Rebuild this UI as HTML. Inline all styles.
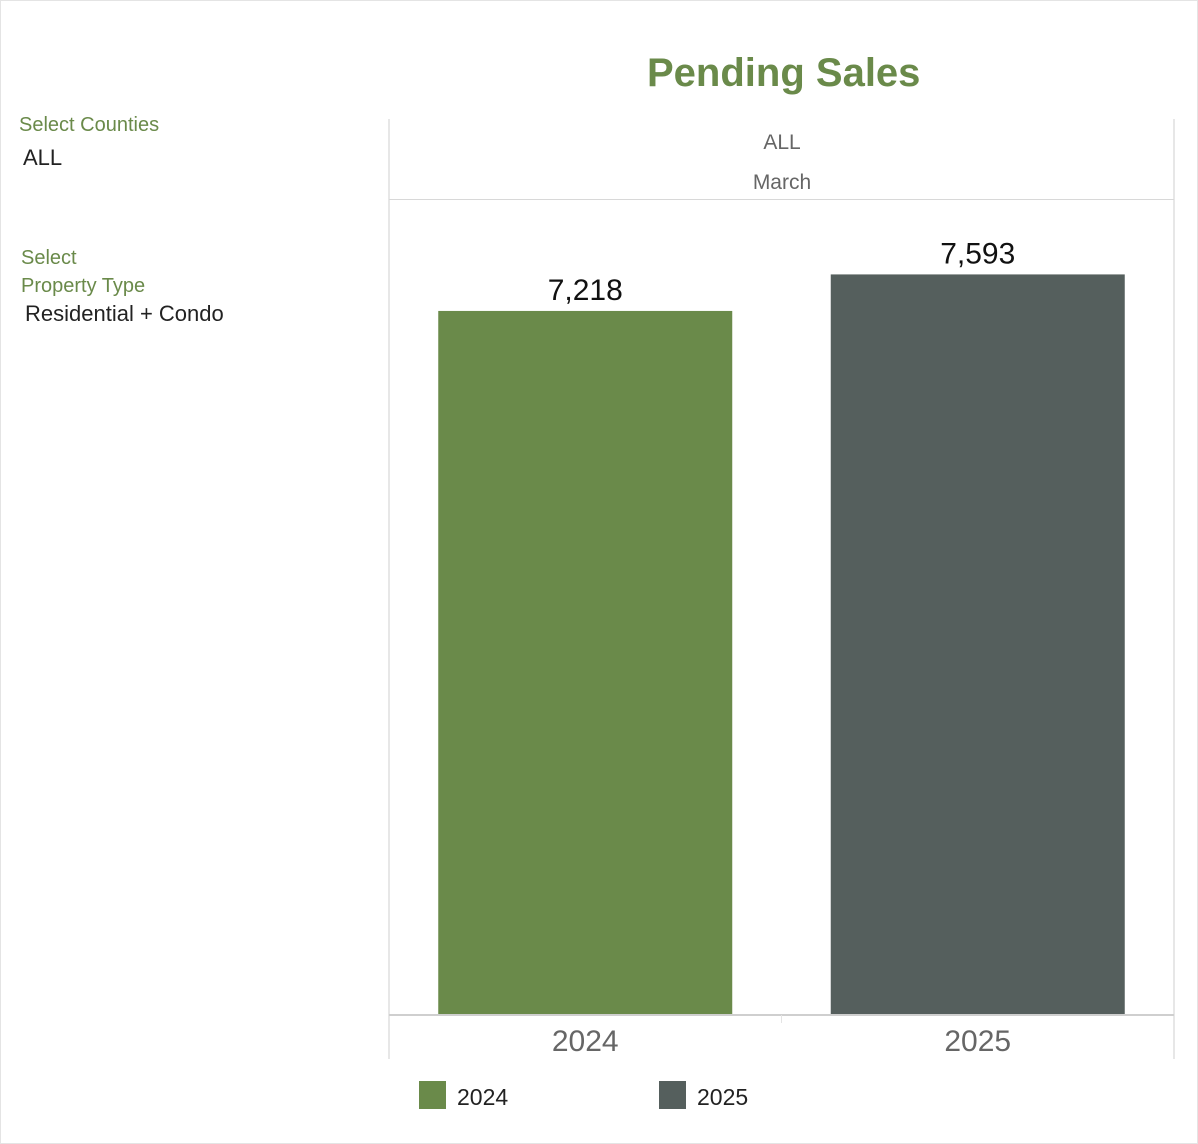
<!DOCTYPE html>
<html><head><meta charset="utf-8"><style>
body{margin:0;background:#fff;font-family:"Liberation Sans",sans-serif;}
#wrap{position:relative;width:1198px;height:1144px;overflow:hidden;border:1px solid #e4e4e4;box-sizing:border-box;}
.t{position:absolute;white-space:nowrap;}
</style></head><body>
<div id="wrap">
<div class="t" style="left:646px;top:50px;font-size:40px;font-weight:bold;color:#6a8a4a;">Pending Sales</div>
<div class="t" style="left:18px;top:113px;font-size:20px;color:#6a8a4a;">Select Counties</div>
<div class="t" style="left:22px;top:144px;font-size:22px;color:#222;">ALL</div>
<div class="t" style="left:20px;top:243px;font-size:20px;color:#6a8a4a;line-height:28px;">Select<br>Property Type</div>
<div class="t" style="left:24px;top:300px;font-size:22px;color:#222;">Residential + Condo</div>
<svg id="chart" width="1198" height="1144" style="position:absolute;left:0;top:0;"></svg>
</div>
<script>
const categories=["2024","2025"];
const values=[7218,7593];
const colors=["#6a8a4a","#555f5d"];
const headerLabels=["ALL","March"];
const ns="http://www.w3.org/2000/svg";
const svg=document.getElementById("chart");
function mk(tag,attrs,text){const e=document.createElementNS(ns,tag);for(const k in attrs)e.setAttribute(k,attrs[k]);if(text!==undefined)e.textContent=text;svg.appendChild(e);return e;}
const base=1013,top0=199,maxV=8357;
function y(v){return base-(v/maxV)*(base-top0);}
const left=388,right=1173,band=(right-left)/categories.length,barW=294;
function xc(i){return left+band*(i+0.5);}
let l;
l=mk("line",{x1:388,y1:118,x2:388,y2:1058,stroke:"#cfcfcf"});

l=mk("line",{x1:1173,y1:118,x2:1173,y2:1058,stroke:"#cfcfcf"});

l=mk("line",{x1:388,y1:198.5,x2:1173,y2:198.5,stroke:"#d8d8d8"});

l=mk("line",{x1:388,y1:1014,x2:1173,y2:1014,stroke:"#cfcfcf",'stroke-width':2});

l=mk("line",{x1:780.5,y1:1014,x2:780.5,y2:1022,stroke:"#e4e4e4"});

headerLabels.forEach((h,i)=>{
 const t=mk("text",{x:781,y:148+i*40,'text-anchor':'middle','font-size':21,fill:'#666','font-family':'Liberation Sans, sans-serif'},h);
 
});
categories.forEach((c,i)=>{
 const r=mk("rect",{x:xc(i)-barW/2,y:y(values[i]),width:barW,height:base-y(values[i]),fill:colors[i]});
 
 const v=mk("text",{x:xc(i),y:y(values[i])-11,'text-anchor':'middle','font-size':30,fill:'#111','font-family':'Liberation Sans, sans-serif'},values[i].toLocaleString('en-US'));
 
 const x=mk("text",{x:xc(i),y:1050,'text-anchor':'middle','font-size':30,fill:'#666','font-family':'Liberation Sans, sans-serif'},c);
 
 const s=mk("rect",{x:418+i*240,y:1080,width:27,height:28,fill:colors[i]});
 
 const lt=mk("text",{x:456+i*240,y:1104,'font-size':23,fill:'#222','font-family':'Liberation Sans, sans-serif'},c);
 
});
</script>
</body></html>
